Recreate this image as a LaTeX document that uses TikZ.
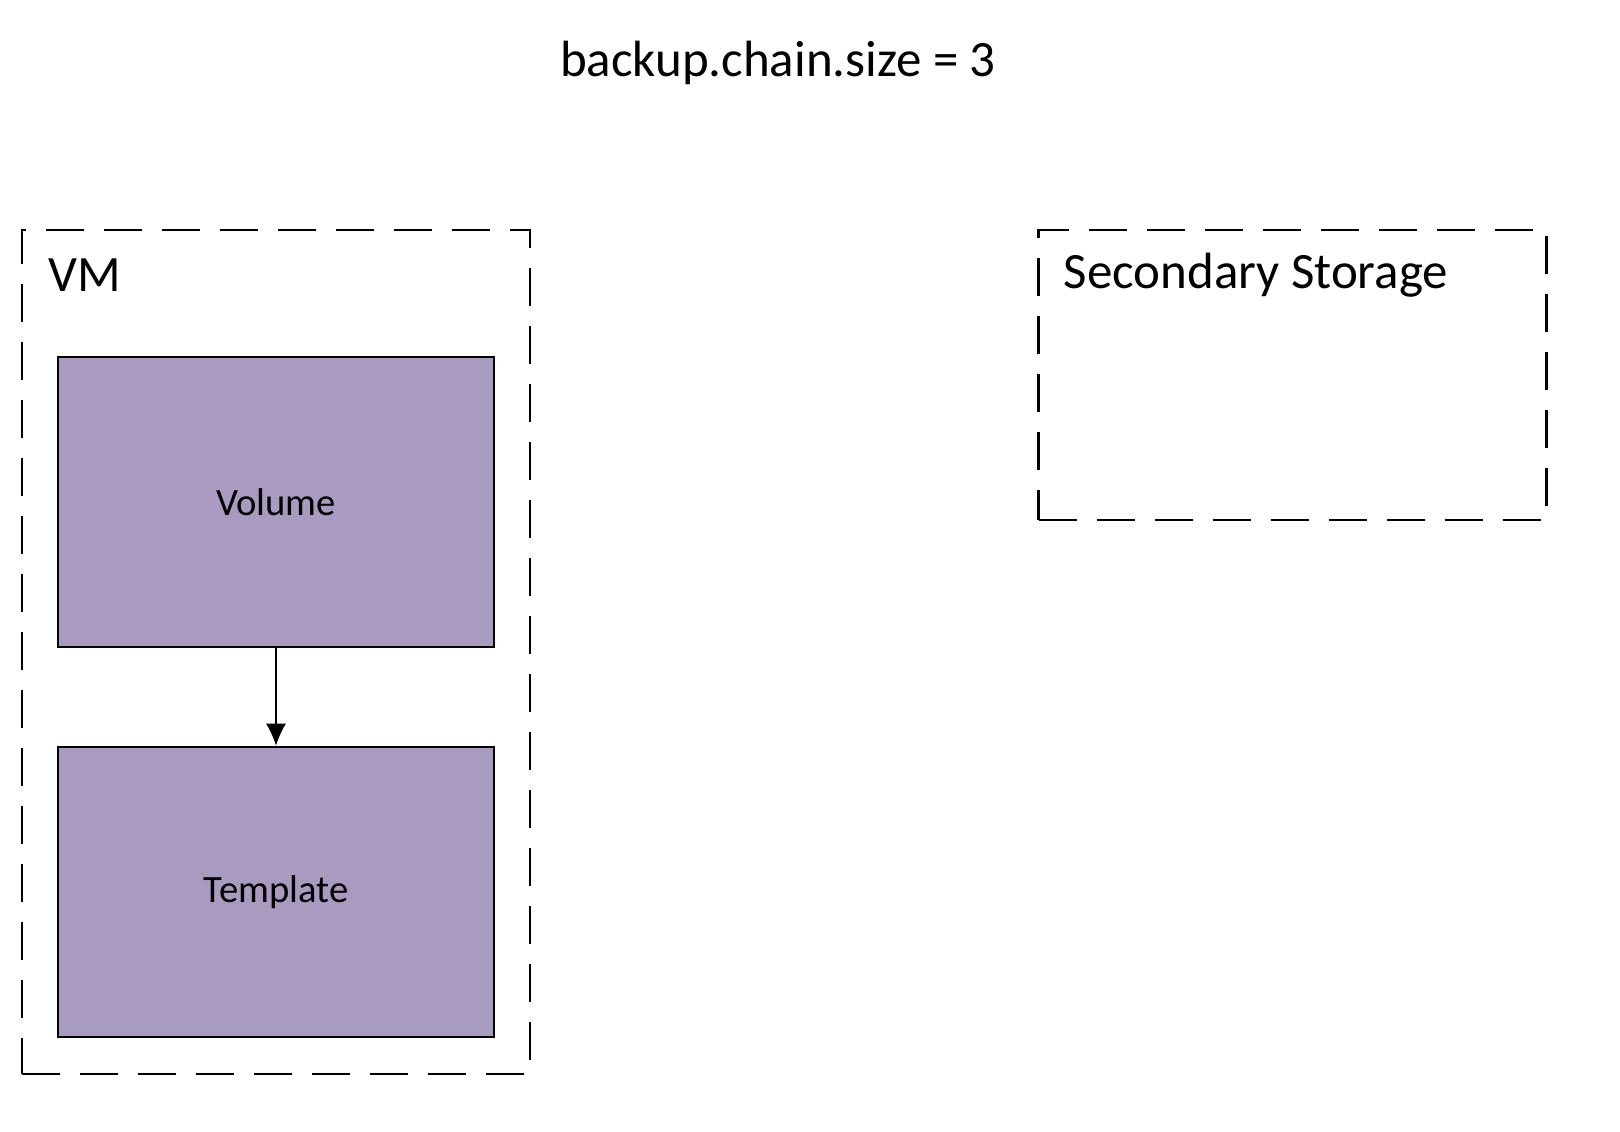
\documentclass[tikz,border=0pt]{standalone}
\usepackage{fontspec}
\setmainfont{Carlito}
\usetikzlibrary{positioning,arrows.meta}
\tikzset{
  group/.style={draw,line width=0.8pt,dash pattern=on 0.38cm off 0.2cm,minimum width=5.08cm,inner sep=0pt},
  disk/.style={draw,fill=diskfill,line width=0.8pt,minimum width=4.36cm,minimum height=2.9cm,inner sep=0pt,font=\fontsize{11}{14}\selectfont},
  grouplabel/.style={anchor=west,inner sep=0pt,font=\fontsize{14.5}{17}\selectfont}
}
\definecolor{diskfill}{HTML}{A99BBF}
\begin{document}
\begin{tikzpicture}
\useasboundingbox (0,0) rectangle (16.2,11.32);
\node[font=\fontsize{14.5}{17}\selectfont] (title) at (7.78,10.69) {backup.chain.size = 3};
% VM
\node[group,minimum height=8.44cm] (vm) at (2.76,4.80) {};
\node[grouplabel] (vmlabel) at (0.48,8.57) {VM};
\node[disk] (volume) at (2.76,6.30) {Volume};
\node[disk] (template) at (2.76,2.40) {Template};
\draw[-{Latex[length=0.22cm,width=0.2cm]},line width=0.3pt] (volume.south) -- (template.north);
% storage
\node[group,minimum height=2.9cm] (storage) at (12.925,7.57) {};
\node[grouplabel] (storagelabel) at (10.63,8.57) {Secondary Storage};
\end{tikzpicture}
\end{document}
